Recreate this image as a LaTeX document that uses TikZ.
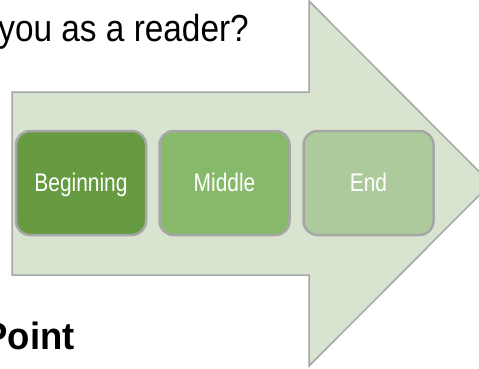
\documentclass[tikz,border=0pt]{standalone}
\usepackage{fontspec}
\newfontfamily\narrowsans{Liberation Sans}[FakeStretch=0.82]
\newfontfamily\titlesans{Liberation Sans}[FakeStretch=0.885]
\newfontfamily\boldsans{Liberation Sans Bold}[FakeStretch=0.96]
\usepackage{tikz}
\definecolor{arrowfill}{HTML}{D8E4D0}
\definecolor{edgegray}{HTML}{A6A6A6}
\definecolor{stageA}{HTML}{669B41}
\definecolor{stageB}{HTML}{86BA6A}
\definecolor{stageC}{HTML}{ADCA9C}

\begin{document}
\begin{tikzpicture}[
    x=1pt,y=-1pt,
    every node/.style={font=\narrowsans},
    stage/.style={draw=edgegray,line width=2.5pt,rounded corners=14pt,
                  minimum width=130pt,minimum height=104pt,inner sep=0pt,
                  text height=17pt,text depth=0pt,
                  text=white,font=\narrowsans\fontsize{25.5}{28}\selectfont},
    caption/.style={inner sep=0pt,anchor=base east,text=black},
  ]
  \useasboundingbox (0,0) rectangle (479,368);
  \clip (0,0) rectangle (479,368);

  % big process arrow
  \draw[edgegray,line width=1.5pt,fill=arrowfill,line join=miter]
    (12,92) -- (309,92) -- (309,1) -- (491,183.5) -- (309,366)
    -- (309,275) -- (12,275) -- cycle;

  \node[stage,fill=stageA] (beg) at (81,183) {Beginning};
  \node[stage,fill=stageB] (mid) at (224.5,183) {Middle};
  \node[stage,fill=stageC] (fin) at (368.5,183) {End};

  \node[caption,font=\titlesans\fontsize{37.7}{40}\selectfont] (question) at (249,41)
    {you as a reader?};
  \node[caption,font=\boldsans\fontsize{38}{40}\selectfont] (point) at (75,349)
    {Point};
\end{tikzpicture}
\end{document}
